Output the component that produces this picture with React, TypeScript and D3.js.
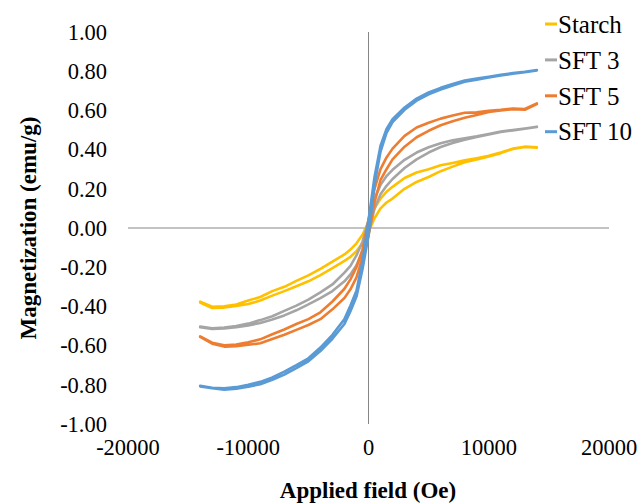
import React from "react";
import * as d3 from "d3";

const fieldOe = [-14000,-13000,-12000,-11000,-10000,-9000,-8000,-7000,-6000,-5000,-4000,-3000,-2000,-1500,-1000,-500,0,500,1000,1500,2000,3000,4000,5000,6000,7000,8000,9000,10000,11000,12000,13000,14000];

// descending branch (upper), ascending branch (lower)
const starchDown = [-0.376,-0.402,-0.4,-0.39,-0.37,-0.352,-0.322,-0.3,-0.27,-0.242,-0.208,-0.172,-0.135,-0.11,-0.078,-0.035,0.03,0.1,0.15,0.185,0.21,0.255,0.283,0.3,0.32,0.332,0.345,0.356,0.368,0.385,0.405,0.415,0.412];
const starchUp = [-0.38,-0.408,-0.406,-0.398,-0.388,-0.37,-0.345,-0.322,-0.297,-0.272,-0.24,-0.205,-0.168,-0.147,-0.118,-0.078,-0.02,0.05,0.1,0.13,0.15,0.2,0.235,0.26,0.29,0.313,0.335,0.35,0.365,0.382,0.403,0.413,0.41];
const sft3Down = [-0.503,-0.512,-0.508,-0.5,-0.488,-0.47,-0.45,-0.423,-0.396,-0.365,-0.328,-0.288,-0.228,-0.193,-0.14,-0.07,0.04,0.15,0.22,0.265,0.297,0.348,0.385,0.412,0.432,0.448,0.458,0.468,0.48,0.492,0.5,0.508,0.517];
const sft3Up = [-0.506,-0.515,-0.512,-0.506,-0.497,-0.485,-0.467,-0.446,-0.42,-0.39,-0.358,-0.322,-0.272,-0.237,-0.19,-0.12,-0.03,0.1,0.172,0.215,0.25,0.306,0.35,0.385,0.413,0.434,0.45,0.464,0.477,0.49,0.498,0.506,0.515];
const sft5Down = [-0.553,-0.585,-0.598,-0.595,-0.583,-0.568,-0.542,-0.518,-0.49,-0.465,-0.43,-0.375,-0.31,-0.262,-0.2,-0.11,0.04,0.2,0.3,0.36,0.405,0.47,0.513,0.537,0.558,0.574,0.588,0.59,0.598,0.603,0.61,0.607,0.636];
const sft5Up = [-0.556,-0.59,-0.605,-0.603,-0.596,-0.588,-0.566,-0.545,-0.52,-0.495,-0.465,-0.415,-0.357,-0.313,-0.252,-0.15,-0.04,0.13,0.245,0.3,0.35,0.415,0.463,0.496,0.524,0.545,0.563,0.577,0.592,0.6,0.606,0.603,0.632];
const sft10Down = [-0.805,-0.815,-0.818,-0.812,-0.8,-0.785,-0.762,-0.733,-0.7,-0.665,-0.61,-0.545,-0.465,-0.395,-0.32,-0.17,0.04,0.26,0.42,0.505,0.555,0.615,0.66,0.692,0.715,0.735,0.753,0.762,0.772,0.782,0.79,0.797,0.806];
const sft10Up = [-0.808,-0.818,-0.825,-0.82,-0.81,-0.797,-0.775,-0.748,-0.715,-0.68,-0.628,-0.565,-0.49,-0.425,-0.35,-0.21,-0.04,0.22,0.39,0.485,0.54,0.603,0.65,0.682,0.706,0.727,0.746,0.757,0.768,0.778,0.787,0.795,0.804];

const seriesNames = ["Starch", "SFT 3", "SFT 5", "SFT 10"];
const seriesColors = ["#FFC000", "#A5A5A5", "#ED7D31", "#5B9BD5"];
const seriesDown = [starchDown, sft3Down, sft5Down, sft10Down];
const seriesUp = [starchUp, sft3Up, sft5Up, sft10Up];

const xTicks = [-20000, -10000, 0, 10000, 20000];
const yTicks = [-1, -0.8, -0.6, -0.4, -0.2, 0, 0.2, 0.4, 0.6, 0.8, 1];

export default function App() {
  const W = 640, H = 504;
  const x = d3.scaleLinear().domain([-20000, 20000]).range([128, 609]);
  const y = d3.scaleLinear().domain([-1, 1]).range([424, 32]);
  const line = d3.line<[number, number]>().x(d => x(d[0])).y(d => y(d[1]));
  const font = "'Liberation Serif', 'Times New Roman', serif";

  return (
    <svg width={W} height={H} style={{ position: "absolute", left: 0, top: 0, background: "#fff" }}>
      <rect width={W} height={H} fill="#fff" />
      {/* axes */}
      <line x1={x(-20000)} x2={x(20000)} y1={y(0)} y2={y(0)} stroke="#868686" strokeWidth={1} />
      <line x1={x(0)} x2={x(0)} y1={y(1)} y2={y(-1)} stroke="#868686" strokeWidth={1} />
      {/* series */}
      {seriesNames.map((name, i) => {
        const down: [number, number][] = fieldOe.map((h, k) => [h, seriesDown[i][k]] as [number, number]).reverse();
        const up: [number, number][] = fieldOe.map((h, k) => [h, seriesUp[i][k]] as [number, number]);
        return (
          <path key={name} d={line(down.concat(up)) || ""} fill="none" stroke={seriesColors[i]} strokeWidth={2.6} strokeLinejoin="round" strokeLinecap="round" />
        );
      })}
      {/* y tick labels */}
      {yTicks.map(t => (
        <text key={t} x={107} y={y(t)} dy="0.35em" textAnchor="end" fontFamily={font} fontSize={22.5} fill="#000">
          {d3.format(".2f")(t).replace("−", "-")}
        </text>
      ))}
      {/* x tick labels */}
      {xTicks.map(t => (
        <text key={t} x={x(t)} y={455} textAnchor="middle" fontFamily={font} fontSize={22.5} fill="#000">
          {String(t)}
        </text>
      ))}
      {/* axis titles */}
      <text x={368} y={498} textAnchor="middle" fontFamily={font} fontWeight="bold" fontSize={23} fill="#000">Applied field (Oe)</text>
      <text transform={`translate(36,228) rotate(-90)`} textAnchor="middle" fontFamily={font} fontWeight="bold" fontSize={23} fill="#000">Magnetization (emu/g)</text>
      {/* legend */}
      {seriesNames.map((name, i) => {
        const cy = 24 + i * 35.9;
        return (
          <g key={name}>
            <line x1={545} x2={557} y1={cy} y2={cy} stroke={seriesColors[i]} strokeWidth={3} />
            <text x={558} y={cy} dy="0.35em" fontFamily={font} fontSize={25} fill="#000">{name}</text>
          </g>
        );
      })}
    </svg>
  );
}
